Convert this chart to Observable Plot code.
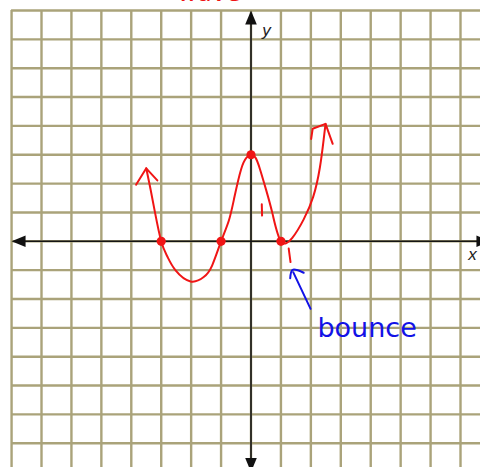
<!DOCTYPE html>
<html>
<head>
<meta charset="utf-8">
<script src="https://cdn.jsdelivr.net/npm/d3@7"></script>
<script src="https://cdn.jsdelivr.net/npm/@observablehq/plot@0.6"></script>
<style>
  html, body { margin: 0; padding: 0; background: #fff; overflow: hidden; }
  #chart svg { display: block; }
</style>
</head>
<body>
<div id="chart"></div>
<script>
// Grid lines (one per unit) of the coordinate plane
const gridX = [-8, -7, -6, -5, -4, -3, -2, -1, 0, 1, 2, 3, 4, 5, 6, 7];
const gridY = [-7, -6, -5, -4, -3, -2, -1, 0, 1, 2, 3, 4, 5, 6, 7, 8];

// Sketched polynomial curve, traced left arrow -> right arrow
const curveX = [-3.50, -3.36, -3.21, -3.00, -2.80, -2.52, -2.02, -1.58, -1.30, -1.00,
                -0.74, -0.55, -0.33, -0.15, 0.00, 0.15, 0.30, 0.50, 0.72, 1.00, 1.38, 1.76, 2.08, 2.30, 2.43, 2.49];
const curveY = [2.53, 1.82, 1.01, 0.00, -0.52, -1.01, -1.39, -1.24, -0.84, 0.00,
                0.72, 1.55, 2.50, 2.90, 3.00, 2.90, 2.50, 1.80, 0.95, 0.00, 0.12, 0.76, 1.55, 2.55, 3.55, 4.07];

// Intercepts marked with dots
const pointX = [-3, -1, 0, 1];
const pointY = [0, 0, 3, 0];

// Open arrowheads at both ends of the curve
const headId = ["left", "left", "left", "right", "right", "right", "right"];
const headX = [-3.84, -3.50, -3.13, 2.01, 2.06, 2.49, 2.73];
const headY = [1.96, 2.53, 2.11, 3.55, 3.90, 4.07, 3.38];

// Small red pen strokes: unit mark on the y side and a dash under the bounce
const strokeId = ["unit", "unit", "dash", "dash"];
const strokeX = [0.36, 0.37, 1.26, 1.32];
const strokeY = [1.28, 0.89, -0.25, -0.72];

// Blue pointer from the note to the bounce
const pointerId = ["shaft", "shaft", "head", "head", "head"];
const pointerX = [1.99, 1.41, 1.76, 1.39, 1.31];
const pointerY = [-2.34, -1.07, -1.09, -0.99, -1.28];

// Axis ends (arrowheads) and labels
const axisEndX = [-8, 8, 0, 0];
const axisEndY = [0, 0, 8, -8];
const axisEndAngle = [-90, 90, 0, 180];
const axisLabels = ["x", "y"];
const axisLabelX = [7.40, 0.52];
const axisLabelY = [-0.46, 7.30];

// Notes
const noteText = ["bounce"];
const noteX = [2.22];
const noteY = [-3.33];
const titleText = ["wave"];
const titleX = [-1.4];

const xDomain = [-8.37, 7.668];
const yDomain = [-7.841, 8.347];

const curve = curveX.map((x, i) => ({x, y: curveY[i]}));
const points = pointX.map((x, i) => ({x, y: pointY[i]}));
const heads = headX.map((x, i) => ({id: headId[i], x, y: headY[i]}));
const strokes = strokeX.map((x, i) => ({id: strokeId[i], x, y: strokeY[i]}));
const pointer = pointerX.map((x, i) => ({id: pointerId[i], x, y: pointerY[i]}));
const axisEnds = axisEndX.map((x, i) => ({x, y: axisEndY[i], a: axisEndAngle[i]}));
const labels = axisLabels.map((t, i) => ({t, x: axisLabelX[i], y: axisLabelY[i]}));
const notes = noteText.map((t, i) => ({t, x: noteX[i], y: noteY[i]}));
const titles = titleText.map((t, i) => ({t, x: titleX[i]}));

// Solid arrowhead, tip at the origin, pointing up
const arrowHead = {
  draw(context) {
    context.moveTo(0, 0);
    context.lineTo(-5.8, 14);
    context.lineTo(5.8, 14);
    context.closePath();
  }
};

const gridColor = "#aaa37a";
const red = "#f01515";
const blue = "#1212e6";

const chart = Plot.plot({
  width: 480,
  height: 467,
  margin: 0,
  x: {domain: xDomain, axis: null},
  y: {domain: yDomain, axis: null},
  style: {background: "#fff", overflow: "hidden"},
  marks: [
    // grid paper
    Plot.ruleX(gridX, {x: d => d, y1: yDomain[0], y2: 8, stroke: gridColor, strokeWidth: 2.4}),
    Plot.ruleY(gridY, {y: d => d, x1: -8, x2: xDomain[1], stroke: gridColor, strokeWidth: 2.4}),
    // axes
    Plot.ruleY([0], {x1: -7.6, x2: 7.6, stroke: "#151515", strokeWidth: 1.6}),
    Plot.ruleX([0], {y1: -7.6, y2: 7.6, stroke: "#151515", strokeWidth: 1.6}),
    Plot.dot(axisEnds, {x: "x", y: "y", rotate: "a", symbol: arrowHead, fill: "#111", stroke: "none"}),
    Plot.text(labels, {x: "x", y: "y", text: "t", fontSize: 17, fontStyle: "italic",
      fontFamily: "Liberation Sans, Arial, sans-serif", fill: "#222"}),
    // curve
    Plot.line(curve, {x: "x", y: "y", curve: "natural", stroke: red, strokeWidth: 2}),
    Plot.line(heads, {x: "x", y: "y", z: "id", stroke: red, strokeWidth: 2, strokeLinejoin: "round"}),
    Plot.line(strokes, {x: "x", y: "y", z: "id", stroke: red, strokeWidth: 2}),
    Plot.dot(points, {x: "x", y: "y", r: 4.6, fill: red, stroke: "none"}),
    // annotation
    Plot.line(pointer, {x: "x", y: "y", z: "id", curve: "catmull-rom", stroke: blue, strokeWidth: 2}),
    Plot.text(notes, {x: "x", y: "y", text: "t", textAnchor: "start", lineAnchor: "bottom",
      fontSize: 27, fontFamily: "DejaVu Sans, sans-serif", fill: blue}),
    // heading above the grid, mostly running off the top edge
    Plot.text(titles, {x: "x", y: yDomain[1], text: "t", lineAnchor: "bottom", dy: 0,
      fontSize: 24, fontFamily: "DejaVu Sans, sans-serif", fill: red})
  ]
});

document.getElementById("chart").append(chart);
</script>
</body>
</html>
